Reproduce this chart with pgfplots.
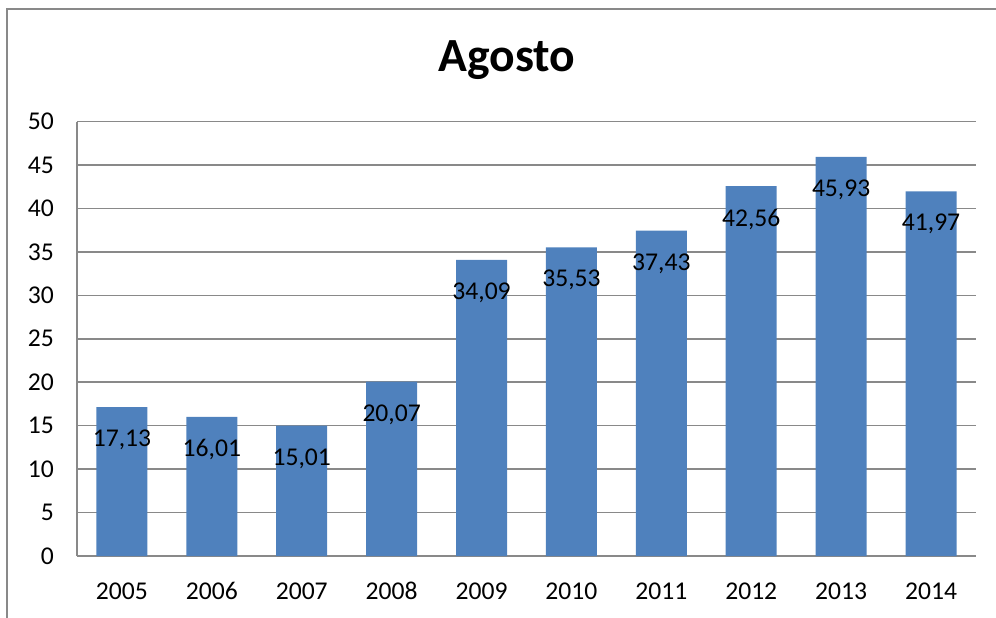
\documentclass[border=0pt]{standalone}
\usepackage{fontspec}
\setmainfont{Carlito}
\usepackage{pgfplots}
\pgfplotsset{compat=1.18}
\definecolor{barblue}{HTML}{4F81BD}
\definecolor{gridgray}{HTML}{898989}
\begin{document}
\begin{tikzpicture}
\useasboundingbox (-38.5pt,-30.5pt) rectangle (459.5pt,278pt);
\draw[gridgray, line width=1.2pt] (-35pt,-40pt) -- (-35pt,273.5pt) -- (470pt,273.5pt);
\begin{axis}[
  at={(0pt,0pt)}, anchor=south west,
  scale only axis,
  width=449.5pt, height=217.25pt,
  xmin=-0.5, xmax=9.5,
  ymin=0, ymax=50,
  ytick={0,5,...,50},
  xtick={0,...,9},
  xticklabels={2005,2006,2007,2008,2009,2010,2011,2012,2013,2014},
  axis x line=bottom, axis y line=left,
  axis line style={-, gridgray, line width=0.8pt},
  ymajorgrids,
  grid style={gridgray, line width=0.8pt},
  major tick length=0pt,
  tick style={draw=none},
  /pgf/number format/assume math mode=true,
  ticklabel style={font=\fontsize{12.8pt}{15pt}\selectfont},
  yticklabel style={xshift=-8pt},
  xticklabel style={anchor=base, yshift=-21.5pt},
  nodes near coords,
  nodes near coords style={font=\fontsize{12.8pt}{15pt}\selectfont, anchor=center, yshift=-16.5pt,
    /pgf/number format/.cd, use comma, fixed, fixed zerofill, precision=2, assume math mode=true},
  clip=false,
]
\addplot[ybar, bar width=25.5pt, fill=barblue, draw=none] coordinates {
  (0,17.13) (1,16.01) (2,15.01) (3,20.07) (4,34.09)
  (5,35.53) (6,37.43) (7,42.56) (8,45.93) (9,41.97)
};
\end{axis}
\node[font=\fontsize{23.8pt}{28pt}\selectfont\bfseries] at (215pt,248pt) {Agosto};
\end{tikzpicture}
\end{document}
